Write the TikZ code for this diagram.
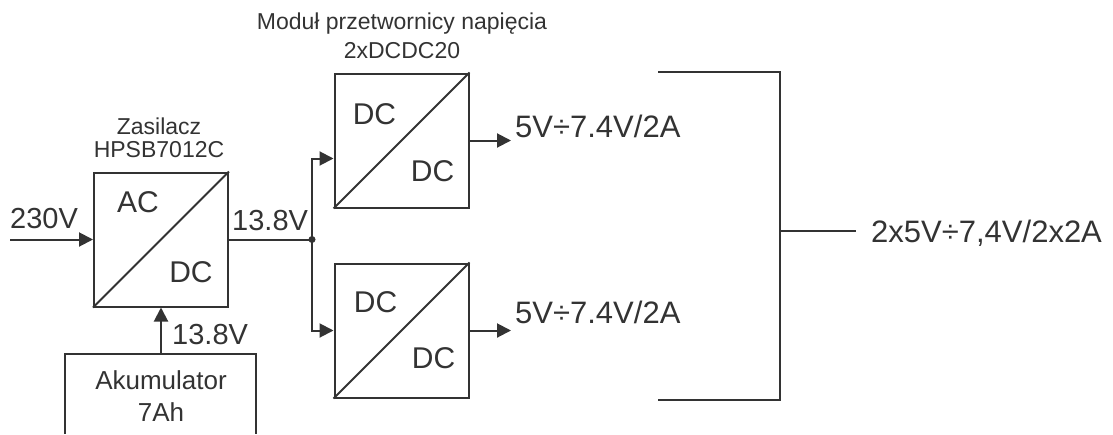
\documentclass[tikz,border=0pt]{standalone}
\usepackage{fontspec}
\setmainfont{Liberation Sans}
\usetikzlibrary{arrows.meta,positioning}
\definecolor{ink}{HTML}{333333}

\begin{document}
\begin{tikzpicture}[
        x=1pt, y=-1pt,
        conv/.style={draw=ink, line width=2pt, minimum width=134pt, minimum height=134pt, inner sep=0pt},
        wire/.style={draw=ink, line width=2pt},
        arr/.style={wire, -{Triangle[length=14pt,width=14pt]}},
        big/.style={text=ink, inner sep=0pt, font=\fontsize{30}{34}\selectfont},
        volt/.style={text=ink, inner sep=0pt, anchor=base west, font=\fontsize{29}{34}\selectfont},
        outv/.style={text=ink, inner sep=0pt, anchor=base west, font=\fontsize{31}{36}\selectfont},
        small/.style={text=ink, inner sep=0pt, align=center, anchor=south, font=\fontsize{23}{23}\selectfont}
    ]
        \useasboundingbox (0,0) rectangle (1113,434);

        % converters
        \node[conv] (zas) at (161,239.5) {};
        \node[conv] (dc1) at (401.5,140.5) {};
        \node[conv] (dc2) at (401.5,330.5) {};
        \draw[wire] (zas.south west) -- (zas.north east);
        \draw[wire] (dc1.south west) -- (dc1.north east);
        \draw[wire] (dc2.south west) -- (dc2.north east);

        \node[big] (ac) at ([xshift=-23pt,yshift=37pt]zas.center) {AC};
        \node[big] (dcz) at ([xshift=30pt,yshift=-33pt]zas.center) {DC};
        \node[big] (dc1a) at ([xshift=-27pt,yshift=26pt]dc1.center) {DC};
        \node[big] (dc1b) at ([xshift=31pt,yshift=-31pt]dc1.center) {DC};
        \node[big] (dc2a) at ([xshift=-26pt,yshift=28pt]dc2.center) {DC};
        \node[big] (dc2b) at ([xshift=32pt,yshift=-28pt]dc2.center) {DC};

        \node[small] (zasname) at (159,158) {Zasilacz\\HPSB7012C};
        \node[small, font=\fontsize{23}{29}\selectfont] (modname) at (402,59) {Moduł przetwornicy napięcia\\2xDCDC20};

        % battery (open at the bottom)
        \coordinate (akbl) at (65,434);
        \coordinate (akbr) at (256,434);
        \coordinate (aktop) at (161,354);
        \draw[wire] (akbl) -- ++(0,-80) -| (akbr);
        \node[text=ink, align=center, inner sep=0pt, font=\fontsize{26}{32}\selectfont] (akum) at (161,396) {Akumulator\\7Ah};

        % inputs
        \coordinate (in) at (10,239.5);
        \coordinate (j) at (312,239.5);
        \draw[arr] (in) -- (zas.west);
        \node[volt] (v230) at (10,228) {230V};
        \draw[arr] (aktop) -- (zas.south);
        \node[volt] (vak) at (172,344) {13.8V};
        \draw[wire] (zas.east) -- (j);
        \fill[ink] (j) circle (3.5pt);
        \node[volt] (vzas) at (232,230) {13.8V};
        \draw[arr] (j) |- ([yshift=-18pt]dc1.west);
        \draw[arr] (j) |- (dc2.west);

        % outputs
        \coordinate (o1) at (511,140.5);
        \coordinate (o2) at (511,330.5);
        \draw[arr] (dc1.east) -- (o1);
        \draw[arr] (dc2.east) -- (o2);
        \node[outv] (v1) at (515,137) {5V÷7.4V/2A};
        \node[outv] (v2) at (515,323) {5V÷7.4V/2A};

        % summary bracket
        \coordinate (btop) at (658,72);
        \coordinate (bbot) at (658,400);
        \coordinate (bmid) at (780,231);
        \coordinate (bend) at (856,231);
        \draw[wire] (btop) -- ++(122,0) |- (bbot);
        \draw[draw=ink, line width=1.3pt] (bmid) -- (bend);
        \node[outv] (sum) at (871,242) {2x5V÷7,4V/2x2A};

    \end{tikzpicture}
\end{document}
